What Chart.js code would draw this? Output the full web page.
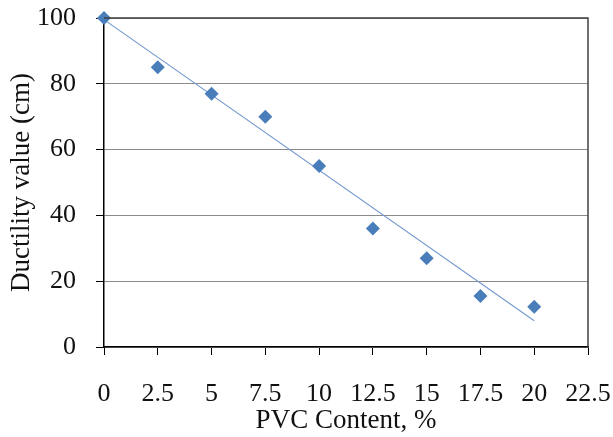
<!DOCTYPE html>
<html>
<head>
<meta charset="utf-8">
<script src="https://cdn.jsdelivr.net/npm/chart.js@4.4.0/dist/chart.umd.min.js"></script>
<style>
  html, body { margin: 0; padding: 0; background: #fff; }
  #wrap { width: 613px; height: 437px; }
</style>
</head>
<body>
<div id="wrap"><canvas id="chart"></canvas></div>
<script>
const pvcContent = [0, 2.5, 5, 7.5, 10, 12.5, 15, 17.5, 20];
const ductility = [100, 85, 77, 70, 55, 36, 27, 15.5, 12.2];
// trendline end points as drawn in the figure
const trendX = [0, 20];
const trendY = [99.5, 8];
const xTicks = [0, 2.5, 5, 7.5, 10, 12.5, 15, 17.5, 20, 22.5];
const yTicks = [0, 20, 40, 60, 80, 100];

const tickFont = { family: 'Liberation Serif', size: 26 };
const titleFont = { family: 'Liberation Serif', size: 27 };

// dark frame round the plot area (top and right sides)
const plotFrame = {
  id: 'plotFrame',
  afterDatasetsDraw(chart) {
    const { ctx, chartArea: a } = chart;
    ctx.save();
    ctx.strokeStyle = '#404040';
    ctx.lineWidth = 1.5;
    ctx.beginPath();
    ctx.moveTo(a.left, a.top);
    ctx.lineTo(a.right, a.top);
    ctx.lineTo(a.right, a.bottom);
    ctx.stroke();
    ctx.restore();
  }
};

const ctx = document.getElementById('chart').getContext('2d');

new Chart(ctx, {
  type: 'scatter',
  data: {
    datasets: [
      {
        label: 'Ductility',
        data: pvcContent.map((x, i) => ({ x: x, y: ductility[i] })),
        pointStyle: 'rectRot',
        pointRadius: 7,
        pointHoverRadius: 7,
        backgroundColor: '#4a7ebb',
        borderColor: '#4a7ebb',
        borderWidth: 0,
        clip: false,
        order: 1
      },
      {
        label: 'Trend',
        type: 'line',
        data: trendX.map((x, i) => ({ x: x, y: trendY[i] })),
        borderColor: '#7399cc',
        borderWidth: 1.1,
        pointRadius: 0,
        fill: false,
        order: 2
      }
    ]
  },
  options: {
    responsive: true,
    maintainAspectRatio: false,
    animation: false,
    layout: {
      padding: { top: 18, right: 25, left: 0, bottom: 0 }
    },
    plugins: {
      legend: { display: false },
      tooltip: { enabled: false }
    },
    scales: {
      x: {
        type: 'linear',
        min: 0,
        max: 22.5,
        afterBuildTicks: (scale) => {
          scale.ticks = xTicks.map(v => ({ value: v }));
        },
        afterFit: (scale) => {
          scale.height = 90;
          scale.paddingLeft = 0;
          scale.paddingRight = 0;
        },
        grid: {
          drawOnChartArea: false,
          drawTicks: true,
          tickLength: 8,
          color: '#000'
        },
        border: { display: true, color: '#000', width: 1.5 },
        ticks: {
          font: tickFont,
          color: '#111',
          padding: 24,
          maxRotation: 0,
          autoSkip: false
        },
        title: {
          display: true,
          text: 'PVC Content, %',
          font: titleFont,
          color: '#111',
          padding: { top: 0, bottom: 0 }
        }
      },
      y: {
        min: 0,
        max: 100,
        afterBuildTicks: (scale) => {
          scale.ticks = yTicks.map(v => ({ value: v }));
        },
        afterFit: (scale) => {
          scale.width = 104;
          scale.paddingTop = 0;
          scale.paddingBottom = 0;
        },
        grid: {
          color: '#8a8a8a',
          lineWidth: 1,
          drawTicks: true,
          tickLength: 8,
          tickColor: '#000'
        },
        border: { display: true, color: '#000', width: 1.5 },
        ticks: {
          font: tickFont,
          color: '#111',
          padding: 20
        },
        title: {
          display: true,
          text: 'Ductility value (cm)',
          font: titleFont,
          color: '#111',
          padding: { top: 6, bottom: 0 }
        }
      }
    }
  },
  plugins: [plotFrame]
});
</script>
</body>
</html>
